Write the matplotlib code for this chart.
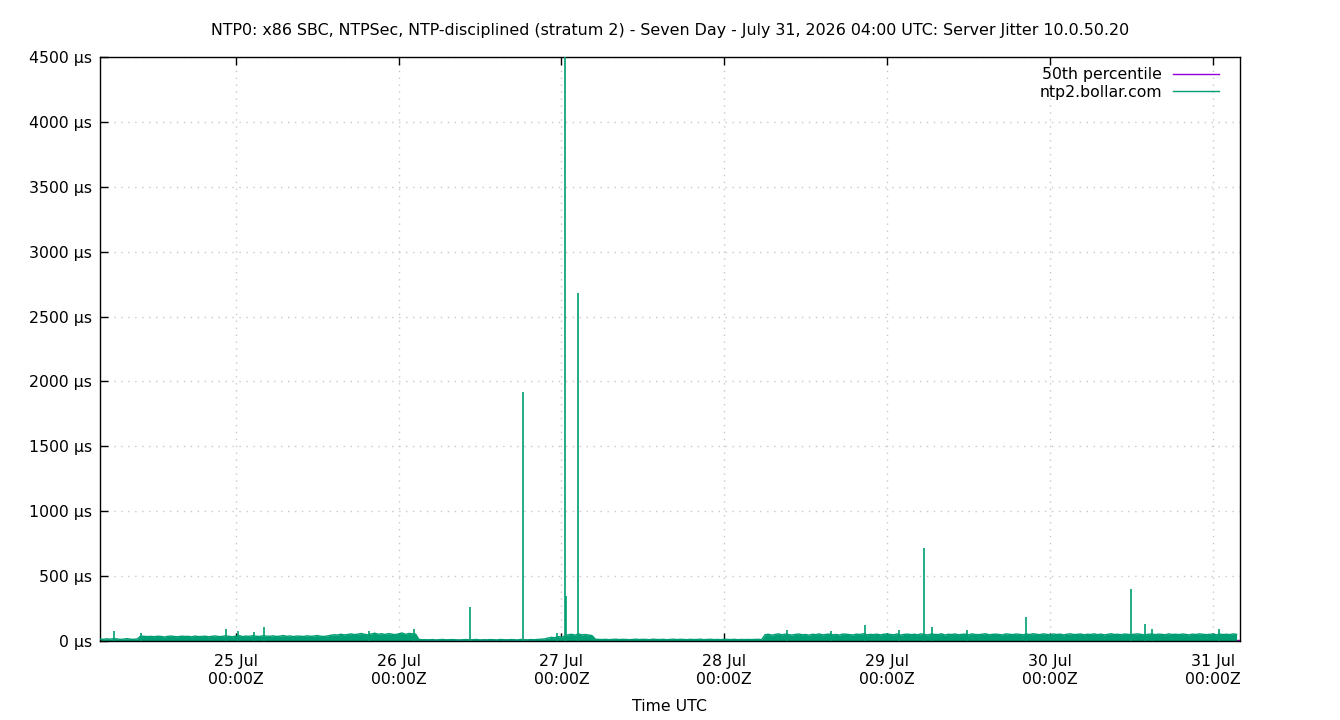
import matplotlib
matplotlib.use("Agg")
import matplotlib.pyplot as plt
import numpy as np

# ---- data ----
title = "NTP0: x86 SBC, NTPSec, NTP-disciplined (stratum 2) - Seven Day - July 31, 2026 04:00 UTC: Server Jitter 10.0.50.20"
series_name = "ntp2.bollar.com"
pct_name = "50th percentile"

# half-hourly baseline jitter (µs), each block = 24 h starting 04:00 UTC
jul24 = [15, 13, 17, 14, 18, 16, 12, 15, 18, 14, 13, 16,
         38, 36, 34, 36, 33, 37, 35, 31, 36, 38, 34, 33,
         37, 35, 36, 32, 38, 34, 35, 37, 33, 36, 39, 34,
         35, 40, 36, 33, 37, 42, 34, 38, 36, 41, 37, 35]
jul25 = [40, 38, 36, 40, 35, 37, 42, 36, 39, 34, 38, 37,
         35, 40, 36, 38, 42, 37, 35, 39, 44, 48, 46, 52,
         47, 50, 55, 49, 53, 58, 51, 48, 54, 60, 52, 56,
         50, 57, 53, 49, 55, 62, 51, 58, 56, 54, 12, 10]
jul26 = [10, 9, 11, 8, 10, 12, 9, 10, 11, 9, 8, 10,
         11, 9, 10, 12, 8, 10, 9, 11, 10, 8, 12, 10,
         9, 11, 10, 8, 12, 10, 9, 11, 10, 12, 14, 16,
         22, 28, 25, 34, 30, 38, 48, 52, 45, 55, 47, 50]
jul27 = [46, 42, 14, 12, 11, 13, 10, 12, 14, 11, 13, 12,
         10, 12, 14, 11, 13, 12, 10, 14, 12, 11, 13, 10,
         12, 14, 11, 13, 12, 10, 13, 11, 12, 14, 10, 12,
         13, 11, 12, 10, 14, 12, 11, 13, 10, 12, 11, 12]
jul28 = [11, 12, 13, 10, 48, 52, 45, 50, 55, 47, 53, 49,
         46, 51, 54, 48, 50, 45, 52, 49, 55, 47, 51, 53,
         48, 50, 46, 54, 52, 49, 47, 53, 50, 56, 48, 51,
         49, 53, 47, 52, 55, 50, 48, 54, 46, 51, 53, 49]
jul29 = [52, 48, 55, 50, 47, 53, 51, 49, 56, 46, 52, 50,
         54, 48, 51, 53, 47, 55, 50, 49, 52, 56, 48, 51,
         53, 50, 47, 55, 52, 49, 54, 51, 48, 53, 50, 56,
         52, 49, 55, 51, 48, 54, 50, 53, 47, 52, 55, 50]
jul30 = [51, 54, 48, 52, 50, 55, 49, 53, 47, 51, 56, 50,
         52, 48, 54, 51, 49, 53, 55, 50, 47, 52, 54, 49,
         53, 51, 48, 55, 50, 52, 49, 54, 51, 47, 53, 50,
         55, 52, 49, 51, 54, 48, 53, 50, 52, 49, 55, 51]

# isolated spikes: hours since 24 Jul 04:00 UTC, value µs
spike_hours = [2.1, 6.0, 18.6, 20.4, 22.7, 24.2, 39.7, 46.2,
               54.5, 62.4, 67.3, 68.55, 68.7, 70.5,
               101.3, 107.7, 112.8, 117.8, 121.5, 122.6, 127.7,
               136.4, 152.0, 154.0, 155.0, 164.9]
spike_values = [75, 65, 90, 80, 70, 105, 75, 90,
                260, 1920, 65, 4700, 350, 2680,
                85, 80, 125, 85, 720, 110, 85,
                185, 400, 130, 95, 90]

percentile_value = 9  # µs

day_labels = ["25 Jul\n00:00Z", "26 Jul\n00:00Z", "27 Jul\n00:00Z", "28 Jul\n00:00Z",
              "29 Jul\n00:00Z", "30 Jul\n00:00Z", "31 Jul\n00:00Z"]
day_ticks_h = [20, 44, 68, 92, 116, 140, 164]
y_ticks = [0, 500, 1000, 1500, 2000, 2500, 3000, 3500, 4000, 4500]

# ---- plot ----
green = "#009e73"
purple = "#9400d3"
fs = 11.3

fig = plt.figure(figsize=(13.4, 7.2), dpi=100)
ax = fig.add_axes([100/1340, 1 - 641/720, 1140/1340, 584/720])

base = np.array(jul24 + jul25 + jul26 + jul27 + jul28 + jul29 + jul30, dtype=float)
hours = np.arange(len(base)) * 0.5

ax.plot([0, 168], [percentile_value, percentile_value], color=purple, lw=1, zorder=1,
        label=pct_name)
ax.fill_between(hours, 0, base, color=green, lw=0, zorder=2)
ax.plot(hours, base, color=green, lw=1.0, zorder=3, label=series_name)
ax.vlines(spike_hours, 0, spike_values, color=green, lw=1.2, zorder=3)

ax.set_xlim(0, 168)
ax.set_ylim(0, 4500)
ax.set_xticks(day_ticks_h)
ax.set_xticklabels(day_labels, fontsize=fs)
ax.set_yticks(y_ticks)
ax.set_yticklabels([f"{v} µs" for v in y_ticks], fontsize=fs)
ax.tick_params(direction="in", length=6, width=1, top=True, right=False)
ax.tick_params(axis="y", pad=6)
ax.tick_params(axis="x", pad=9.6)
ax.grid(True, color="#c8c8c8", linestyle=(0, (1, 4)), lw=1)
for s in ax.spines.values():
    s.set_linewidth(1)

ax.set_xlabel("Time UTC", fontsize=fs, labelpad=9)
fig.text(0.5, 1 - 30/720, title, ha="center", va="center", fontsize=fs + 0.1)

leg = ax.legend(loc="upper right", frameon=False, markerfirst=False, fontsize=fs,
                handlelength=2.9, handletextpad=0.7, labelspacing=0.15,
                bbox_to_anchor=(1 - 15/1140, 1 - 4/584), borderaxespad=0)

fig.savefig("out.png", dpi=100)
